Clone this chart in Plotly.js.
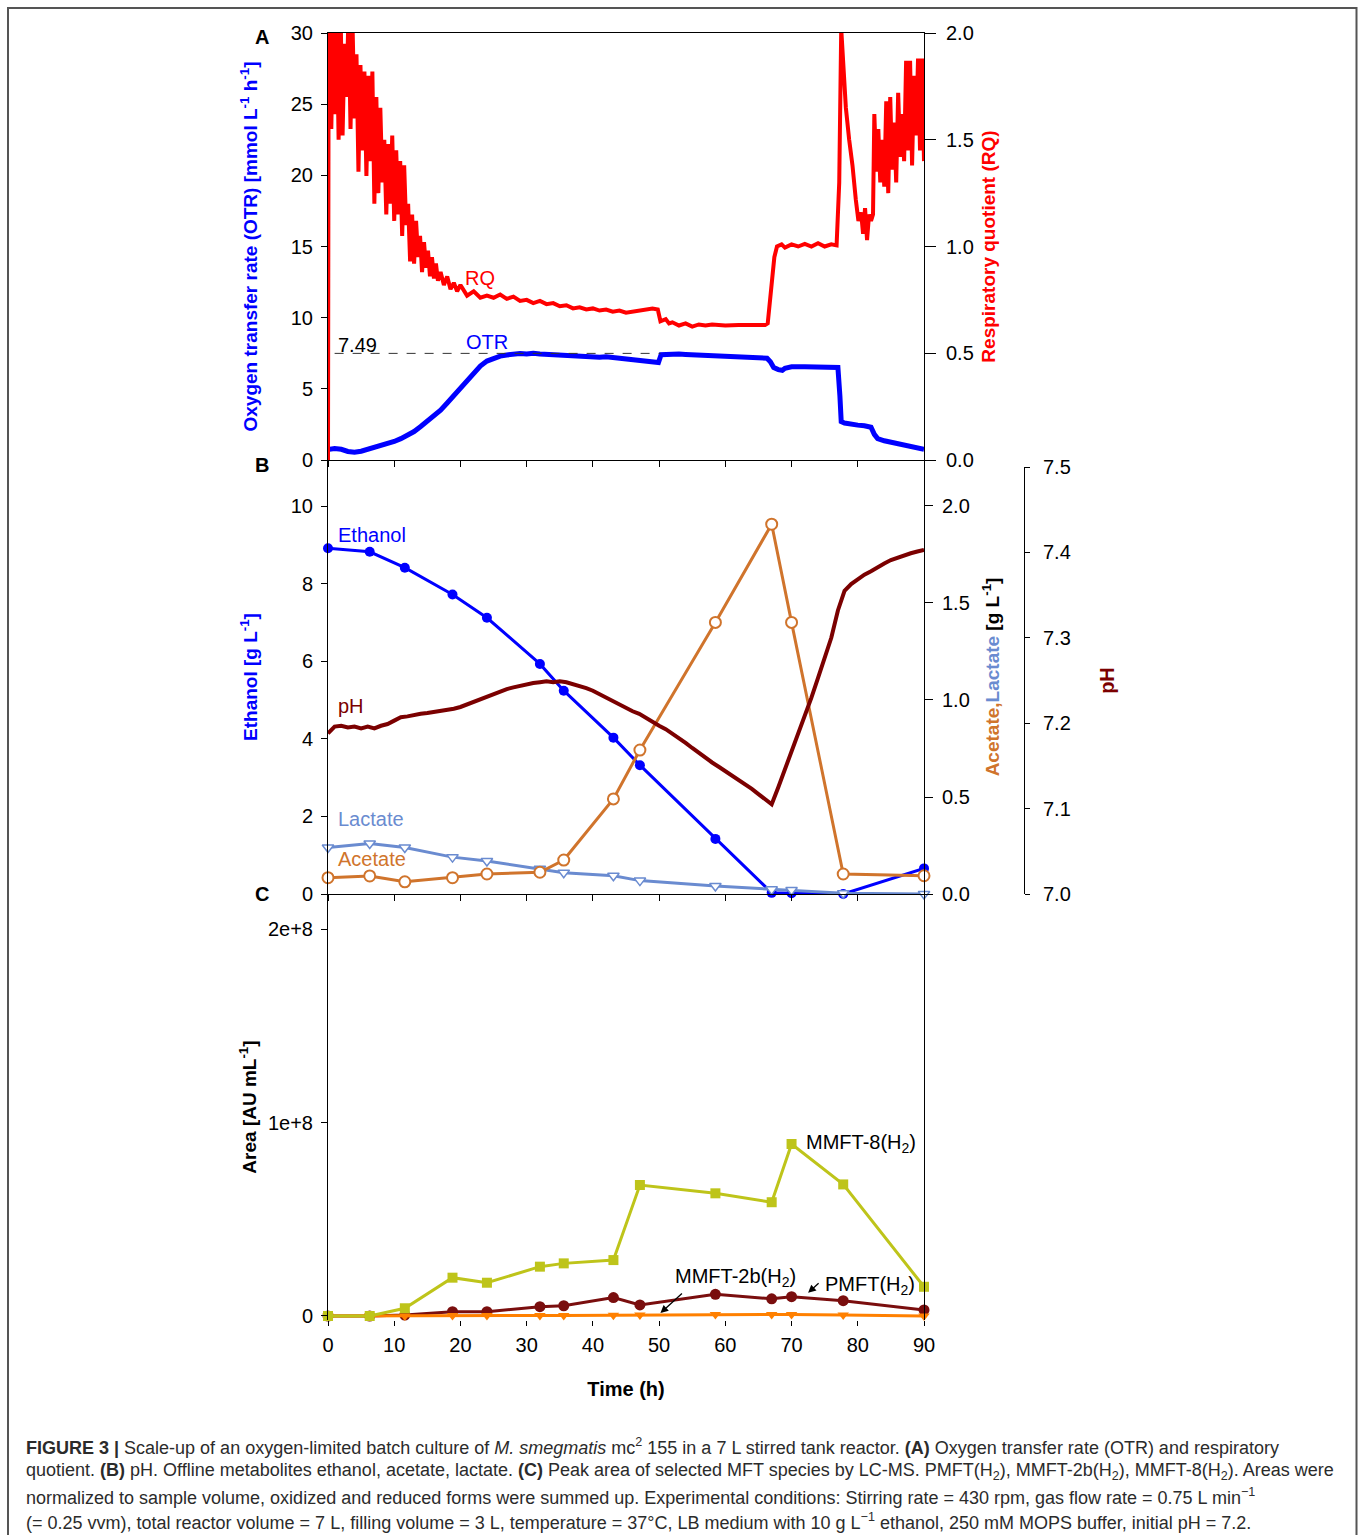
<!DOCTYPE html>
<html>
<head>
<meta charset="utf-8">
<script src="https://cdn.plot.ly/plotly-3.0.1.min.js"></script>
<style>html,body{margin:0;padding:0;background:#fff;}#chart{width:1358px;height:1535px;}</style>
</head>
<body>
<div id="chart"></div>
<script>
// ---------------- DATA ----------------
// Panel A: online signals
const otrTime = [0.1,0.2,1,2,3,4,5,6,7,8,9,10,11,12,13,14,15,16,17,18,19,20,21,22,23,24,25,26,27,28,29,30,31,32,33,34,35,36,37,38,39,40,41,42,43,44,45,46,47,48,49,49.9,50.3,51,52,53,54,55,56,57,58,59,60,62,64,66.3,66.8,67.3,68,68.6,69,70,72,74,76,77.0,77.3,77.5,78,79,80,81,82,82.5,83,84,85,86,87,88,89,90];
const otrValue = [0.7,0.75,0.8,0.75,0.6,0.55,0.62,0.75,0.85,1.0,1.1,1.3,1.5,1.75,2.0,2.35,2.7,3.1,3.5,4.0,4.5,5.0,5.55,6.1,6.6,6.95,7.15,7.3,7.38,7.45,7.48,7.45,7.5,7.45,7.42,7.45,7.38,7.35,7.3,7.33,7.3,7.25,7.22,7.25,7.2,7.1,7.08,7.05,7.0,6.95,6.9,6.85,7.4,7.42,7.48,7.45,7.42,7.4,7.38,7.35,7.33,7.3,7.25,7.2,7.15,7.15,6.9,6.5,6.35,6.3,6.45,6.55,6.55,6.52,6.5,6.5,4.5,2.7,2.6,2.5,2.45,2.4,2.3,1.8,1.5,1.35,1.25,1.15,1.05,0.95,0.85,0.75];

const rqTime = [0,0.1,0.5,0.8,1.0,1.3,1.6,1.9,2.2,2.5,2.8,3.1,3.4,3.7,4.0,4.3,4.6,4.9,5.2,5.5,5.8,6.1,6.4,6.7,7.0,7.3,7.6,7.9,8.2,8.5,8.8,9.1,9.4,9.7,10.0,10.3,10.6,10.9,11.2,11.5,11.8,12.1,12.4,12.7,13.0,13.3,13.6,13.9,14.2,14.5,14.8,15.1,15.4,15.7,16.0,16.3,16.6,17.0,17.5,18.0,18.5,19.0,19.5,20,21,22,23,24,25,26,27,28,29,30,31,32,33,34,35,36,37,38,39,40,41,42,43,44,45,46,47,48,49,49.8,50.2,51,51.5,52,53,54,55,56,57,58,60,62,64,66,66.4,66.8,67.1,67.4,67.8,68.5,69,70,71,72,73,74,75,76,76.8,77.2,77.5,77.8,78.2,78.7,79.2,79.7,80.1,80.5,80.8,81.1,81.4,81.7,82.0,82.3,82.5,82.8,83.1,83.4,83.7,84.0,84.3,84.6,84.9,85.2,85.5,85.8,86.1,86.4,86.7,87.0,87.3,87.6,87.9,88.2,88.5,88.8,89.1,89.4,89.7,90.0];
const rqValue = [0,2.1,1.55,2.1,1.62,2.1,1.50,2.1,1.52,1.95,1.70,2.1,1.55,2.05,1.60,1.90,1.35,1.85,1.45,1.82,1.33,1.80,1.40,1.82,1.20,1.70,1.25,1.65,1.30,1.50,1.15,1.48,1.20,1.52,1.12,1.45,1.15,1.40,1.05,1.38,1.10,1.20,0.93,1.15,0.92,1.12,0.95,1.05,0.88,1.02,0.90,0.98,0.86,0.95,0.85,0.92,0.84,0.88,0.82,0.86,0.80,0.83,0.79,0.82,0.77,0.79,0.76,0.77,0.76,0.775,0.755,0.765,0.745,0.75,0.735,0.745,0.73,0.735,0.72,0.725,0.71,0.715,0.705,0.71,0.70,0.705,0.695,0.70,0.69,0.695,0.70,0.705,0.71,0.705,0.65,0.66,0.64,0.645,0.63,0.64,0.625,0.635,0.63,0.635,0.63,0.632,0.632,0.632,0.64,0.78,0.85,0.95,1.0,1.01,0.995,1.01,1.0,1.012,1.0,1.015,1.0,1.01,1.005,1.3,2.02,1.85,1.65,1.50,1.38,1.22,1.12,1.16,1.06,1.18,1.03,1.15,1.12,1.15,1.62,1.35,1.55,1.30,1.50,1.28,1.68,1.25,1.70,1.36,1.58,1.30,1.72,1.42,1.62,1.40,1.87,1.45,1.87,1.38,1.80,1.52,1.88,1.45,1.88,1.40];

const otrMaxTime = [1, 50.2];
const otrMaxValue = [7.49, 7.49];

// Panel B: offline metabolites and pH
const sampleTime = [0,6.3,11.6,18.8,24.0,32.0,35.6,43.1,47.1,58.5,67.0,70.0,77.8,90.0];
const ethanol = [8.91,8.82,8.41,7.72,7.12,5.93,5.24,4.03,3.32,1.42,0.03,0.02,0.0,0.66];
const acetate = [0.084,0.093,0.063,0.084,0.103,0.112,0.175,0.49,0.742,1.40,1.906,1.40,0.103,0.094];
const lactate = [0.24,0.26,0.24,0.19,0.17,0.13,0.11,0.094,0.069,0.041,0.024,0.021,0.004,0.0];

const phTime = [0,1,2,3,4,5,6,7,8,9,10,11,12,13,14,15,16,17,18,19,20,21,22,23,24,25,26,27,28,29,30,31,32,33,34,35,36,37,38,39,40,41,42,43,44,45,46,47,48,49,50,51,52,53,54,55,56,57,58,59,60,61,62,63,64,65,66,67,68,69,70,71,72,73,74,75,76,77,78,79,80,81,82,83,84,85,86,87,88,89,90];
const phValue = [7.188,7.196,7.197,7.195,7.196,7.194,7.196,7.194,7.197,7.199,7.203,7.207,7.208,7.210,7.211,7.212,7.213,7.215,7.216,7.217,7.219,7.222,7.226,7.229,7.232,7.235,7.238,7.240,7.242,7.244,7.246,7.247,7.248,7.249,7.248,7.249,7.248,7.246,7.244,7.241,7.238,7.234,7.229,7.225,7.222,7.218,7.214,7.211,7.206,7.201,7.197,7.193,7.188,7.183,7.177,7.171,7.165,7.159,7.154,7.149,7.144,7.139,7.134,7.128,7.123,7.117,7.111,7.105,7.125,7.146,7.168,7.188,7.207,7.230,7.253,7.275,7.300,7.332,7.355,7.363,7.369,7.374,7.378,7.383,7.387,7.391,7.394,7.396,7.399,7.401,7.403];

// Panel C: MFT peak areas (AU/mL)
const mmft8 = [0,0,0.04e8,0.198e8,0.172e8,0.255e8,0.272e8,0.289e8,0.677e8,0.634e8,0.588e8,0.889e8,0.68e8,0.151e8];
const mmft2b = [0,0,0.005e8,0.022e8,0.022e8,0.048e8,0.053e8,0.095e8,0.057e8,0.112e8,0.089e8,0.1e8,0.079e8,0.031e8];
const pmft = [0,0,0,0.002e8,0.002e8,0.003e8,0.003e8,0.004e8,0.005e8,0.008e8,0.008e8,0.008e8,0.005e8,0.0];

const xTicks = [0,10,20,30,40,50,60,70,80,90];
const areaTickVals = [0,1e8,2e8];
const areaTickText = ['0','1e+8','2e+8'];

// ---------------- LAYOUT HELPERS ----------------
const W = 1358, H = 1535;
const fx = p => p / W;
const fy = p => 1 - p / H;

const C_BLUE = '#0000ff', C_RED = '#ff0000', C_PH = '#7b0000', C_ACE = '#d0742c', C_LAC = '#6a8bd0';
const C_M8 = '#bec41a', C_M2B = '#7a0e0e', C_PM = '#ff8000';

const baseAx = {showgrid:false, zeroline:false, showline:true, linecolor:'#000', linewidth:1,
  ticks:'outside', ticklen:6, tickwidth:1, tickcolor:'#000', ticklabelstandoff:4, tickfont:{size:20, color:'#000'}};

const traces = [
  {x: otrTime, y: otrValue, xaxis:'x', yaxis:'y', mode:'lines', line:{color:C_BLUE, width:5}, name:'OTR'},
  {x: otrMaxTime, y: otrMaxValue, xaxis:'x', yaxis:'y', mode:'lines', line:{color:'#333', width:1, dash:'dash'}, name:'OTR max'},
  {x: rqTime, y: rqValue, xaxis:'x', yaxis:'y2', mode:'lines', line:{color:C_RED, width:4}, name:'RQ'},

  {x: sampleTime, y: ethanol, xaxis:'x2', yaxis:'y3', mode:'lines+markers', cliponaxis:false,
   line:{color:C_BLUE, width:3}, marker:{symbol:'circle', size:10, color:C_BLUE}, name:'Ethanol'},
  {x: sampleTime, y: lactate, xaxis:'x2', yaxis:'y4', mode:'lines+markers', cliponaxis:false,
   line:{color:C_LAC, width:3}, marker:{symbol:'triangle-down', size:10, color:'#fff', line:{color:C_LAC, width:1.5}}, name:'Lactate'},
  {x: sampleTime, y: acetate, xaxis:'x2', yaxis:'y4', mode:'lines+markers', cliponaxis:false,
   line:{color:C_ACE, width:3}, marker:{symbol:'circle', size:11, color:'#fff', line:{color:C_ACE, width:2}}, name:'Acetate'},
  {x: phTime, y: phValue, xaxis:'x2', yaxis:'y5', mode:'lines', line:{color:C_PH, width:4}, name:'pH'},

  {x: sampleTime, y: mmft2b, xaxis:'x3', yaxis:'y6', mode:'lines+markers', cliponaxis:false,
   line:{color:C_M2B, width:3}, marker:{symbol:'circle', size:11, color:C_M2B}, name:'MMFT-2b(H2)'},
  {x: sampleTime, y: pmft, xaxis:'x3', yaxis:'y6', mode:'lines+markers', cliponaxis:false,
   line:{color:C_PM, width:3}, marker:{symbol:'triangle-down', size:10, color:C_PM}, name:'PMFT(H2)'},
  {x: sampleTime, y: mmft8, xaxis:'x3', yaxis:'y6', mode:'lines+markers', cliponaxis:false,
   line:{color:C_M8, width:3}, marker:{symbol:'square', size:10, color:C_M8}, name:'MMFT-8(H2)'}
];

const XD = [fx(328), fx(924)];
const capFont = {size:18, color:'#2b2b2b'};
const cap = (py, txt) => ({xref:'paper', yref:'paper', x:fx(24), y:fy(py), xanchor:'left', yanchor:'middle',
  text: txt, showarrow:false, font: capFont, align:'left'});
const lbl = (xr, yr, x, y, txt, color) => ({xref:xr, yref:yr, x:x, y:y, xanchor:'left', yanchor:'middle',
  text:txt, showarrow:false, font:{size:20, color:color}});

const layout = {
  width: W, height: H, autosize:false,
  margin:{l:0, r:0, t:0, b:0},
  paper_bgcolor:'#fff', plot_bgcolor:'rgba(0,0,0,0)',
  showlegend:false,
  font:{family:'"Liberation Sans", Arial, sans-serif', size:20, color:'#000'},

  xaxis: Object.assign({}, baseAx, {domain:XD, anchor:'y', range:[0,90], tickvals:xTicks, showticklabels:false, mirror:true}),
  yaxis: Object.assign({}, baseAx, {domain:[fy(460), fy(33)], anchor:'x', range:[0,30], dtick:5,
    title:{text:'<b>Oxygen transfer rate (OTR) [mmol L<sup>-1</sup> h<sup>-1</sup>]</b>', font:{size:19, color:C_BLUE}, standoff:28}}),
  yaxis2: Object.assign({}, baseAx, {overlaying:'y', side:'right', anchor:'x', range:[0,2], dtick:0.5, tickformat:'.1f',
    ticklen:11, ticklabelstandoff:6,
    title:{text:'<b>Respiratory quotient (RQ)</b>', font:{size:19, color:C_RED}, standoff:8}}),

  xaxis2: Object.assign({}, baseAx, {domain:XD, anchor:'y3', range:[0,90], tickvals:xTicks, showticklabels:false}),
  yaxis3: Object.assign({}, baseAx, {domain:[fy(894), fy(460)], anchor:'x2', range:[0,11.186], dtick:2,
    title:{text:'<b>Ethanol [g L<sup>-1</sup>]</b>', font:{size:19, color:C_BLUE}, standoff:28}}),
  yaxis4: Object.assign({}, baseAx, {overlaying:'y3', side:'right', anchor:'x2', range:[0,2.237], dtick:0.5, tickformat:'.1f',
    ticklen:8, ticklabelstandoff:5,
    title:{text:'<b><span style="color:'+C_ACE+'">Acetate,</span><span style="color:'+C_LAC+'">Lactate</span> [g L<sup>-1</sup>]</b>', font:{size:19, color:'#000'}, standoff:16}}),
  yaxis5: Object.assign({}, baseAx, {domain:[fy(894), fy(467)], anchor:'free', position:fx(1024), side:'right', range:[7.0,7.5], dtick:0.1, tickformat:'.1f',
    ticklen:5, ticklabelstandoff:9,
    title:{text:'<b>pH</b>', font:{size:20, color:C_PH}, standoff:30}}),

  xaxis3: Object.assign({}, baseAx, {domain:XD, anchor:'y6', range:[0,90], tickvals:xTicks, showline:false, ticklen:5, ticklabelstandoff:2,
    title:{text:'<b>Time (h)</b>', font:{size:20, color:'#000'}, standoff:26}}),
  yaxis6: Object.assign({}, baseAx, {domain:[fy(1320), fy(894)], anchor:'x3', range:[-0.0207e8, 2.181e8], mirror:true,
    tickvals:areaTickVals, ticktext:areaTickText,
    title:{text:'<b>Area [AU mL<sup>-1</sup>]</b>', font:{size:19, color:'#000'}, standoff:6}}),

  shapes:[
    {type:'rect', xref:'paper', yref:'paper', x0:fx(8), x1:fx(1356.5), y0:-0.02, y1:fy(8), line:{color:'#555', width:2}, fillcolor:'rgba(0,0,0,0)', layer:'below'}
  ],

  annotations:[
    {xref:'paper', yref:'paper', x:fx(262), y:fy(37), xanchor:'center', yanchor:'middle', text:'<b>A</b>', showarrow:false, font:{size:20}},
    {xref:'paper', yref:'paper', x:fx(262), y:fy(465), xanchor:'center', yanchor:'middle', text:'<b>B</b>', showarrow:false, font:{size:20}},
    {xref:'paper', yref:'paper', x:fx(262), y:fy(894), xanchor:'center', yanchor:'middle', text:'<b>C</b>', showarrow:false, font:{size:20}},

    lbl('x','y', 1.2, 8.1, '7.49', '#000'),
    lbl('x','y', 20.5, 8.3, 'OTR', C_BLUE),
    lbl('x','y', 20.4, 12.8, 'RQ', C_RED),

    lbl('x2','y3', 1.2, 9.25, 'Ethanol', C_BLUE),
    lbl('x2','y3', 1.2, 4.85, 'pH', C_PH),
    lbl('x2','y3', 1.2, 1.93, 'Lactate', C_LAC),
    lbl('x2','y3', 1.2, 0.9, 'Acetate', C_ACE),

    lbl('x3','y6', 71.9, 0.894e8, 'MMFT-8(H<sub>2</sub>)', '#000'),
    lbl('x3','y6', 52.1, 0.2e8, 'MMFT-2b(H<sub>2</sub>)', '#000'),
    lbl('x3','y6', 74.7, 0.16e8, 'PMFT(H<sub>2</sub>)', '#000'),
    {xref:'x3', yref:'y6', x:50.2, y:0.015e8, text:'', showarrow:true, ax:23, ay:-21, arrowhead:2, arrowsize:1.2, arrowwidth:1.3, arrowcolor:'#000', standoff:0},
    {xref:'x3', yref:'y6', x:72.5, y:0.12e8, text:'', showarrow:true, ax:12, ay:-11, arrowhead:2, arrowsize:1.2, arrowwidth:1.3, arrowcolor:'#000', standoff:0},

    cap(1446, '<b>FIGURE 3 |</b> Scale-up of an oxygen-limited batch culture of <i>M. smegmatis</i> mc<sup>2</sup> 155 in a 7 L stirred tank reactor. <b>(A)</b> Oxygen transfer rate (OTR) and respiratory'),
    cap(1471, 'quotient. <b>(B)</b> pH. Offline metabolites ethanol, acetate, lactate. <b>(C)</b> Peak area of selected MFT species by LC-MS. PMFT(H<sub>2</sub>), MMFT-2b(H<sub>2</sub>), MMFT-8(H<sub>2</sub>). Areas were'),
    cap(1496, 'normalized to sample volume, oxidized and reduced forms were summed up. Experimental conditions: Stirring rate = 430 rpm, gas flow rate = 0.75 L min<sup>−1</sup>'),
    cap(1521, '(= 0.25 vvm), total reactor volume = 7 L, filling volume = 3 L, temperature = 37°C, LB medium with 10 g L<sup>−1</sup> ethanol, 250 mM MOPS buffer, initial pH = 7.2.')
  ]
};

Plotly.newPlot('chart', traces, layout, {staticPlot:true, displayModeBar:false});
</script>
</body>
</html>
